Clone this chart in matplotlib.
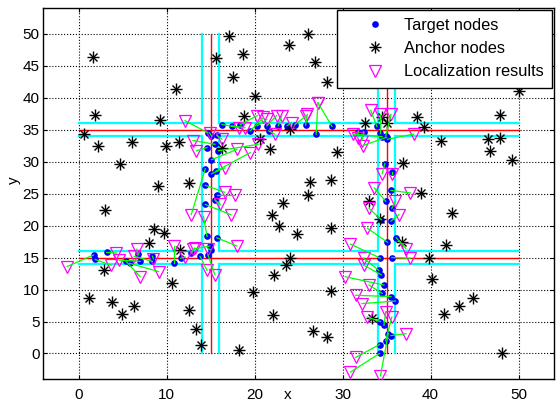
import matplotlib
matplotlib.use('Agg')
import matplotlib.pyplot as plt
from matplotlib.legend_handler import HandlerTuple

plt.rcParams['font.family'] = ['Liberation Sans', 'DejaVu Sans']
plt.rcParams['font.size'] = 11

# target positions (blue dots) and their estimates (magenta triangles), paired by index
target_x = [1.7, 1.9, 3.2, 5.4, 5.8, 6.8, 7.0, 8.4, 8.4, 10.9, 11.6, 12.8, 13.8, 14.7,
            15.0, 14.9, 14.6, 15.7, 14.4, 15.5, 15.7, 14.4, 14.4, 15.1, 15.6, 15.1,
            14.6, 15.5, 15.9, 14.7, 15.1, 15.7,
            16.3, 17.4, 18.4, 19.5, 20.3, 21.4, 21.6, 22.7, 23.7, 24.6, 25.8, 27.0,
            28.8, 31.8, 32.4, 33.9, 34.3, 34.9, 35.1, 35.0, 34.5,
            34.8, 35.6, 35.5, 34.9, 35.6, 34.4, 35.5, 35.1, 36.1, 34.3, 35.6, 34.1,
            34.4, 34.7, 34.5, 35.5, 36.0, 34.3, 34.7, 35.2, 35.5, 34.9, 34.2, 34.2]
target_y = [15.4, 14.7, 15.8, 14.4, 14.1, 15.5, 14.4, 15.2, 14.4, 14.1, 14.9, 15.7, 15.2, 15.4,
            16.2, 16.8, 18.3, 18.1, 23.3, 24.0, 24.8, 26.3, 28.9, 28.1, 28.5, 30.3,
            32.2, 32.7, 31.7, 34.5, 34.0, 34.1,
            35.8, 35.6, 35.8, 34.8, 35.6, 35.6, 34.8, 35.6, 35.6, 35.8, 35.7, 34.3,
            35.5, 34.7, 34.7, 35.5, 34.5, 34.0, 33.5, 33.8, 33.9,
            29.7, 28.4, 25.5, 23.8, 22.7, 20.9, 20.7, 17.4, 18.1, 14.9, 15.0, 13.0,
            12.3, 10.7, 9.4, 8.9, 8.2, 5.0, 4.4, 3.1, 2.8, 2.0, 1.4, 0.0]
est_x = [-1.3, 3.7, 4.3, 7.0, 9.1, 6.6, 4.6, 8.5, 6.3, 10.9, 12.1, 13.2, 14.6, 15.5,
         14.7, 13.0, 14.2, 18.0, 17.3, 16.1, 17.8, 16.6, 12.8, 16.6, 19.5, 18.0,
         13.4, 13.0, 20.4, 12.1, 14.9, 16.3,
         18.2, 18.9, 20.3, 21.0, 21.4, 22.5, 22.3, 23.1, 24.2, 25.9, 26.0, 27.2,
         27.2, 31.7, 32.2, 33.2, 34.3, 35.5, 38.1, 32.3, 31.2,
         34.5, 35.6, 37.7, 33.6, 36.0, 33.0, 36.4, 32.8, 37.2, 30.9, 37.7, 32.4,
         32.4, 30.3, 33.0, 31.5, 32.2, 32.8, 34.9, 34.3, 37.2, 35.6, 31.5, 30.9]
est_y = [13.6, 13.8, 15.7, 12.0, 12.8, 16.3, 14.6, 14.8, 15.2, 16.8, 15.1, 16.5, 13.0, 12.3,
         16.4, 16.3, 21.4, 16.8, 21.7, 23.3, 24.8, 25.2, 21.7, 29.0, 31.4, 31.9,
         31.7, 33.3, 32.7, 36.4, 34.5, 33.5,
         35.3, 35.3, 37.2, 36.9, 36.6, 37.2, 34.3, 37.2, 36.1, 37.2, 37.4, 39.2,
         39.2, 33.7, 33.3, 38.0, 37.4, 37.4, 34.3, 32.5, 34.3,
         28.1, 28.1, 25.1, 25.9, 23.8, 22.7, 21.7, 19.6, 16.4, 17.1, 14.9, 14.9,
         13.8, 12.0, 10.7, 9.1, 7.8, 5.7, 6.5, -3.5, 3.1, 5.7, -0.6, -2.9]

anchor_x = [1.6, 1.9, 0.6, 2.2, 4.7, 6.1, 9.2, 9.9, 11.4, 11.1, 9.0, 12.5, 15.6, 17.1,
            18.7, 17.6, 20.1, 18.8, 20.6, 21.7, 16.3, 23.9, 26.1, 26.9, 28.2, 29.4,
            26.3, 28.7, 26.1, 32.5, 34.5, 35.1, 36.9, 38.5, 39.3, 41.2, 38.9, 46.5,
            47.9, 46.7, 49.3, 47.9, 50.0, 3.0, 8.6, 9.7, 8.0, 2.9, 1.2, 3.8, 4.9,
            6.3, 10.6, 12.5, 13.3, 13.9, 18.2, 19.8, 22.0, 22.8, 22.2, 22.1, 11.5,
            23.2, 24.8, 28.7, 24.0, 23.6, 28.7, 26.6, 28.2, 33.4, 42.4, 41.8, 39.8,
            40.2, 41.5, 43.2, 44.8, 48.1, 36.7, 34.2, 33.0, 24.0]
anchor_y = [46.3, 37.3, 34.3, 32.4, 29.6, 33.0, 36.5, 32.4, 33.0, 41.4, 26.2, 26.7, 46.2, 49.6,
            46.8, 43.3, 40.3, 37.1, 33.6, 32.0, 32.1, 48.3, 50.0, 45.5, 42.5, 31.5,
            26.8, 27.2, 24.8, 36.0, 37.0, 36.0, 29.8, 36.9, 35.4, 33.2, 25.1, 33.5,
            33.7, 31.7, 30.3, 37.3, 41.0, 22.5, 19.4, 18.8, 17.2, 13.1, 8.7, 8.1, 6.2,
            7.4, 11.0, 6.8, 3.9, 1.3, 0.5, 9.6, 21.6, 19.9, 12.3, 6.0, 16.2,
            23.5, 18.7, 19.6, 14.9, 13.9, 9.8, 3.5, 2.6, 5.6, 21.9, 17.0, 14.9,
            11.6, 6.1, 7.4, 8.7, 0.0, 17.5, 21.0, 23.8, 35.1]

# road layout: two horizontal and two vertical corridors
road_centers = [15, 35]
road_half = 1
field = [0, 50]

fig = plt.figure(figsize=(5.56, 4.05), dpi=100)
ax = fig.add_axes([0.078, 0.064, 0.918, 0.916])

h_t, = ax.plot(target_x, target_y, 'o', color='blue', markersize=4.8,
               markeredgewidth=0, zorder=4)
# MATLAB style asterisk: a plus with a smaller cross on top
h_a1, = ax.plot(anchor_x, anchor_y, '+', color='black', markersize=8,
                markeredgewidth=1.0, zorder=4)
h_a2, = ax.plot(anchor_x, anchor_y, 'x', color='black', markersize=5.5,
                markeredgewidth=1.0, zorder=4)
h_e, = ax.plot(est_x, est_y, 'v', markerfacecolor='none', markeredgecolor='magenta',
               markersize=8, markeredgewidth=0.9, zorder=4)

for tx, ty, ex, ey in zip(target_x, target_y, est_x, est_y):
    ax.plot([tx, ex], [ty, ey], color=(0, 1, 0), lw=0.9, zorder=5)

# corridor edges (cyan), broken at the crossings
cuts = [field[0]]
for c in road_centers:
    cuts += [c - road_half, c + road_half]
cuts.append(field[1])
spans = [(cuts[i], cuts[i + 1]) for i in range(0, len(cuts), 2)]
for c in road_centers:
    for edge in (c - road_half, c + road_half):
        for a, b in spans:
            ax.plot([edge, edge], [a, b], color='cyan', lw=1.6, zorder=3)
            ax.plot([a, b], [edge, edge], color='cyan', lw=1.6, zorder=3)

# corridor centre lines (red)
for c in road_centers:
    ax.plot(field, [c, c], color='red', lw=1.0, zorder=3)
    ax.plot([c, c], field, color='red', lw=1.0, zorder=3)

ax.set_xlim(-4, 54)
ax.set_ylim(-4, 54)
ax.set_xticks(range(0, 51, 10))
ax.set_yticks(range(0, 51, 5))
ax.grid(True, color='black', linestyle=':', linewidth=0.8)
ax.set_axisbelow(True)
ax.tick_params(direction='in', top=True, right=True, length=3, labelsize=11)
ax.tick_params(axis='x', pad=6.5)
ax.tick_params(axis='y', pad=2.7)
for s in ax.spines.values():
    s.set_linewidth(1.0)

ax.set_xlabel('x')
ax.set_ylabel('y')
ax.xaxis.set_label_coords(0.478, -0.024)
ax.yaxis.set_label_coords(-0.043, 0.536)

leg = ax.legend([h_t, (h_a1, h_a2), h_e],
                ['Target nodes', 'Anchor nodes', 'Localization results'],
                handler_map={tuple: HandlerTuple(ndivide=1, pad=0)},
                loc='upper right', fontsize=11.8, fancybox=False, edgecolor='black',
                framealpha=1, borderaxespad=0.1, borderpad=0.5, handlelength=3.6,
                handletextpad=0.0, labelspacing=0.5)
leg.get_frame().set_linewidth(1.0)

fig.savefig('out.png', dpi=100)
